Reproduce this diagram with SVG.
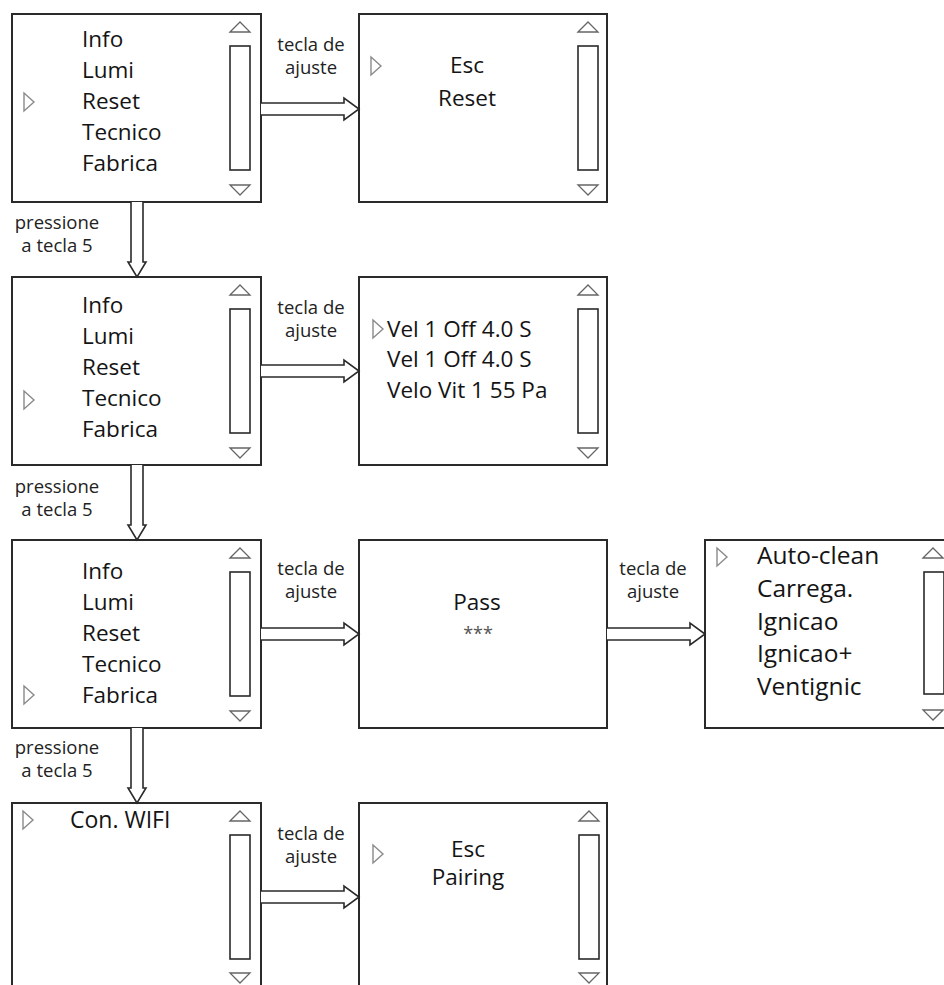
<svg xmlns="http://www.w3.org/2000/svg" width="944" height="985" viewBox="0 0 944 985">
<style>
.box{fill:#fff;stroke:#2a2a2a;stroke-width:2}
.sb{fill:#fff;stroke:#2a2a2a;stroke-width:1.6}
.tri{fill:#fff;stroke:#666;stroke-width:1.3}
.ptr{fill:#fff;stroke:#8a8a8a;stroke-width:1.4}
.arr{fill:#fff;stroke:#2a2a2a;stroke-width:1.6;stroke-linejoin:miter}
text{font-family:'Open Sans','Noto Sans','Liberation Sans',sans-serif;fill:#141414;font-weight:500}
.t{font-size:22.5px}
.tb{font-size:24.5px}
.lb{font-size:18.5px;text-anchor:middle;fill:#222}
.c{text-anchor:middle}
</style>
<defs>
<path id="ptr" d="M0,-9 L10,0 L0,9 Z"/>
</defs>
<rect width="944" height="985" fill="#fff"/>

<!-- Row 1 -->
<g id="menu1">
<rect class="box" x="12" y="14" width="249" height="188"/>
<rect class="sb" x="230" y="46" width="20" height="124"/>
<polygon class="tri" points="230,32 240,22 250,32"/>
<polygon class="tri" points="230,185 250,185 240,195"/>
<use href="#ptr" class="ptr" x="24" y="102"/>
<text class="t" x="82" y="47">Info</text>
<text class="t" x="82" y="78">Lumi</text>
<text class="t" x="82" y="109">Reset</text>
<text class="t" x="82" y="140">Tecnico</text>
<text class="t" x="82" y="171">Fabrica</text>
</g>
<g id="reset">
<rect class="box" x="359" y="14" width="248" height="188"/>
<rect class="sb" x="578" y="46" width="20" height="124"/>
<polygon class="tri" points="578,32 588,22 598,32"/>
<polygon class="tri" points="578,185 598,185 588,195"/>
<use href="#ptr" class="ptr" x="371" y="66"/>
<text class="t c" x="467" y="73">Esc</text>
<text class="t c" x="467" y="106">Reset</text>
</g>

<!-- Row 2 -->
<g id="menu2">
<rect class="box" x="12" y="277" width="249" height="188"/>
<rect class="sb" x="230" y="309" width="20" height="124"/>
<polygon class="tri" points="230,295 240,285 250,295"/>
<polygon class="tri" points="230,448 250,448 240,458"/>
<use href="#ptr" class="ptr" x="24" y="400"/>
<text class="t" x="82" y="313">Info</text>
<text class="t" x="82" y="344">Lumi</text>
<text class="t" x="82" y="375">Reset</text>
<text class="t" x="82" y="406">Tecnico</text>
<text class="t" x="82" y="437">Fabrica</text>
</g>
<g id="tecnico">
<rect class="box" x="359" y="277" width="248" height="188"/>
<rect class="sb" x="578" y="309" width="20" height="124"/>
<polygon class="tri" points="578,295 588,285 598,295"/>
<polygon class="tri" points="578,448 598,448 588,458"/>
<use href="#ptr" class="ptr" x="373" y="329"/>
<text class="t" x="387" y="337">Vel 1 Off 4.0 S</text>
<text class="t" x="387" y="367">Vel 1 Off 4.0 S</text>
<text class="t" x="387" y="398">Velo Vit 1 55 Pa</text>
</g>

<!-- Row 3 -->
<g id="menu3">
<rect class="box" x="12" y="540" width="249" height="188"/>
<rect class="sb" x="230" y="572" width="20" height="124"/>
<polygon class="tri" points="230,558 240,548 250,558"/>
<polygon class="tri" points="230,711 250,711 240,721"/>
<use href="#ptr" class="ptr" x="24" y="695"/>
<text class="t" x="82" y="579">Info</text>
<text class="t" x="82" y="610">Lumi</text>
<text class="t" x="82" y="641">Reset</text>
<text class="t" x="82" y="672">Tecnico</text>
<text class="t" x="82" y="703">Fabrica</text>
</g>
<g id="pass">
<rect class="box" x="359" y="540" width="248" height="188"/>
<text class="t c" x="477" y="610">Pass</text>
<text class="c" x="478" y="640" style="font-size:18px;fill:#555">***</text>
</g>
<g id="fabrica">
<rect class="box" x="705" y="540" width="262" height="188"/>
<rect class="sb" x="924" y="572" width="20" height="122"/>
<polygon class="tri" points="923,558 933,548 943,558"/>
<polygon class="tri" points="923,710 943,710 933,720"/>
<use href="#ptr" class="ptr" x="717" y="557"/>
<text class="tb" x="757" y="564">Auto-clean</text>
<text class="tb" x="757" y="597">Carrega.</text>
<text class="tb" x="757" y="630">Ignicao</text>
<text class="tb" x="757" y="662">Ignicao+</text>
<text class="tb" x="757" y="695">Ventignic</text>
</g>

<!-- Row 4 -->
<g id="wifi">
<rect class="box" x="12" y="803" width="249" height="188"/>
<rect class="sb" x="230" y="835" width="20" height="124"/>
<polygon class="tri" points="230,821 240,811 250,821"/>
<polygon class="tri" points="230,973 250,973 240,983"/>
<use href="#ptr" class="ptr" x="23" y="820"/>
<text class="t" x="70" y="828" style="font-size:23px">Con. WIFI</text>
</g>
<g id="pairing">
<rect class="box" x="359" y="803" width="248" height="188"/>
<rect class="sb" x="579" y="835" width="20" height="124"/>
<polygon class="tri" points="579,821 589,811 599,821"/>
<polygon class="tri" points="579,973 599,973 589,983"/>
<use href="#ptr" class="ptr" x="373" y="854"/>
<text class="t c" x="468" y="857">Esc</text>
<text class="t c" x="468" y="885">Pairing</text>
</g>

<!-- Connectors -->
<g id="connectors">
<path class="arr" d="M261,103 H344 V98 L359,109 L344,120 V115 H261"/>
<path class="arr" d="M261,365 H344 V360 L359,371 L344,382 V377 H261"/>
<path class="arr" d="M261,628 H344 V623 L359,634 L344,645 V640 H261"/>
<path class="arr" d="M607,628 H690 V623 L705,634 L690,645 V640 H607"/>
<path class="arr" d="M261,891 H344 V886 L359,897 L344,908 V903 H261"/>
<path class="arr" d="M131,202 V262 H128 L137,277 L146,262 H143 V202"/>
<path class="arr" d="M131,465 V525 H128 L137,540 L146,525 H143 V465"/>
<path class="arr" d="M131,728 V788 H128 L137,803 L146,788 H143 V728"/>
<text class="lb" x="311" y="51">tecla de</text>
<text class="lb" x="311" y="74">ajuste</text>
<text class="lb" x="311" y="314">tecla de</text>
<text class="lb" x="311" y="337">ajuste</text>
<text class="lb" x="311" y="575">tecla de</text>
<text class="lb" x="311" y="598">ajuste</text>
<text class="lb" x="653" y="575">tecla de</text>
<text class="lb" x="653" y="598">ajuste</text>
<text class="lb" x="311" y="840">tecla de</text>
<text class="lb" x="311" y="863">ajuste</text>
<text class="lb" x="57" y="229">pressione</text>
<text class="lb" x="57" y="252">a tecla 5</text>
<text class="lb" x="57" y="493">pressione</text>
<text class="lb" x="57" y="516">a tecla 5</text>
<text class="lb" x="57" y="754">pressione</text>
<text class="lb" x="57" y="777">a tecla 5</text>
</g>
</svg>
